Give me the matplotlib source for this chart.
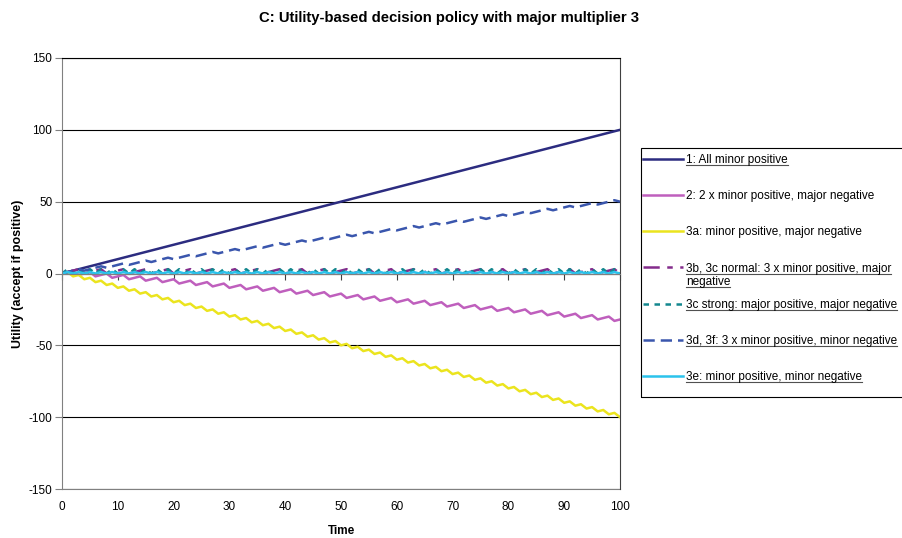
import matplotlib.pyplot as plt
from matplotlib.patches import Rectangle
from matplotlib.lines import Line2D

plt.rcParams['font.family'] = ['Liberation Sans', 'DejaVu Sans']
plt.rcParams['axes.unicode_minus'] = False

# -------------------------
# Data
# -------------------------
time = [0, 1, 2, 3, 4, 5, 6, 7, 8, 9,
        10, 11, 12, 13, 14, 15, 16, 17, 18, 19,
        20, 21, 22, 23, 24, 25, 26, 27, 28, 29,
        30, 31, 32, 33, 34, 35, 36, 37, 38, 39,
        40, 41, 42, 43, 44, 45, 46, 47, 48, 49,
        50, 51, 52, 53, 54, 55, 56, 57, 58, 59,
        60, 61, 62, 63, 64, 65, 66, 67, 68, 69,
        70, 71, 72, 73, 74, 75, 76, 77, 78, 79,
        80, 81, 82, 83, 84, 85, 86, 87, 88, 89,
        90, 91, 92, 93, 94, 95, 96, 97, 98, 99,
        100]

all_minor_pos = [0, 1, 2, 3, 4, 5, 6, 7, 8, 9,
                 10, 11, 12, 13, 14, 15, 16, 17, 18, 19,
                 20, 21, 22, 23, 24, 25, 26, 27, 28, 29,
                 30, 31, 32, 33, 34, 35, 36, 37, 38, 39,
                 40, 41, 42, 43, 44, 45, 46, 47, 48, 49,
                 50, 51, 52, 53, 54, 55, 56, 57, 58, 59,
                 60, 61, 62, 63, 64, 65, 66, 67, 68, 69,
                 70, 71, 72, 73, 74, 75, 76, 77, 78, 79,
                 80, 81, 82, 83, 84, 85, 86, 87, 88, 89,
                 90, 91, 92, 93, 94, 95, 96, 97, 98, 99,
                 100]

two_minor_major_neg = [0, 1, 2, -1, 0, 1, -2, -1, 0, -3,
                       -2, -1, -4, -3, -2, -5, -4, -3, -6, -5,
                       -4, -7, -6, -5, -8, -7, -6, -9, -8, -7,
                       -10, -9, -8, -11, -10, -9, -12, -11, -10, -13,
                       -12, -11, -14, -13, -12, -15, -14, -13, -16, -15,
                       -14, -17, -16, -15, -18, -17, -16, -19, -18, -17,
                       -20, -19, -18, -21, -20, -19, -22, -21, -20, -23,
                       -22, -21, -24, -23, -22, -25, -24, -23, -26, -25,
                       -24, -27, -26, -25, -28, -27, -26, -29, -28, -27,
                       -30, -29, -28, -31, -30, -29, -32, -31, -30, -33,
                       -32]

minor_pos_major_neg = [0, 1, -2, -1, -4, -3, -6, -5, -8, -7,
                       -10, -9, -12, -11, -14, -13, -16, -15, -18, -17,
                       -20, -19, -22, -21, -24, -23, -26, -25, -28, -27,
                       -30, -29, -32, -31, -34, -33, -36, -35, -38, -37,
                       -40, -39, -42, -41, -44, -43, -46, -45, -48, -47,
                       -50, -49, -52, -51, -54, -53, -56, -55, -58, -57,
                       -60, -59, -62, -61, -64, -63, -66, -65, -68, -67,
                       -70, -69, -72, -71, -74, -73, -76, -75, -78, -77,
                       -80, -79, -82, -81, -84, -83, -86, -85, -88, -87,
                       -90, -89, -92, -91, -94, -93, -96, -95, -98, -97,
                       -100]

three_minor_major_neg = [0, 1, 2, 3, 0, 1, 2, 3, 0, 1,
                         2, 3, 0, 1, 2, 3, 0, 1, 2, 3,
                         0, 1, 2, 3, 0, 1, 2, 3, 0, 1,
                         2, 3, 0, 1, 2, 3, 0, 1, 2, 3,
                         0, 1, 2, 3, 0, 1, 2, 3, 0, 1,
                         2, 3, 0, 1, 2, 3, 0, 1, 2, 3,
                         0, 1, 2, 3, 0, 1, 2, 3, 0, 1,
                         2, 3, 0, 1, 2, 3, 0, 1, 2, 3,
                         0, 1, 2, 3, 0, 1, 2, 3, 0, 1,
                         2, 3, 0, 1, 2, 3, 0, 1, 2, 3,
                         0]

major_pos_major_neg = [0, 3, 0, 3, 0, 3, 0, 3, 0, 3,
                       0, 3, 0, 3, 0, 3, 0, 3, 0, 3,
                       0, 3, 0, 3, 0, 3, 0, 3, 0, 3,
                       0, 3, 0, 3, 0, 3, 0, 3, 0, 3,
                       0, 3, 0, 3, 0, 3, 0, 3, 0, 3,
                       0, 3, 0, 3, 0, 3, 0, 3, 0, 3,
                       0, 3, 0, 3, 0, 3, 0, 3, 0, 3,
                       0, 3, 0, 3, 0, 3, 0, 3, 0, 3,
                       0, 3, 0, 3, 0, 3, 0, 3, 0, 3,
                       0, 3, 0, 3, 0, 3, 0, 3, 0, 3,
                       0]

three_minor_minor_neg = [0, 1, 2, 3, 2, 3, 4, 5, 4, 5,
                         6, 7, 6, 7, 8, 9, 8, 9, 10, 11,
                         10, 11, 12, 13, 12, 13, 14, 15, 14, 15,
                         16, 17, 16, 17, 18, 19, 18, 19, 20, 21,
                         20, 21, 22, 23, 22, 23, 24, 25, 24, 25,
                         26, 27, 26, 27, 28, 29, 28, 29, 30, 31,
                         30, 31, 32, 33, 32, 33, 34, 35, 34, 35,
                         36, 37, 36, 37, 38, 39, 38, 39, 40, 41,
                         40, 41, 42, 43, 42, 43, 44, 45, 44, 45,
                         46, 47, 46, 47, 48, 49, 48, 49, 50, 51,
                         50]

minor_pos_minor_neg = [0, 1, 0, 1, 0, 1, 0, 1, 0, 1,
                       0, 1, 0, 1, 0, 1, 0, 1, 0, 1,
                       0, 1, 0, 1, 0, 1, 0, 1, 0, 1,
                       0, 1, 0, 1, 0, 1, 0, 1, 0, 1,
                       0, 1, 0, 1, 0, 1, 0, 1, 0, 1,
                       0, 1, 0, 1, 0, 1, 0, 1, 0, 1,
                       0, 1, 0, 1, 0, 1, 0, 1, 0, 1,
                       0, 1, 0, 1, 0, 1, 0, 1, 0, 1,
                       0, 1, 0, 1, 0, 1, 0, 1, 0, 1,
                       0, 1, 0, 1, 0, 1, 0, 1, 0, 1,
                       0]

labels = ['1: All minor positive',
          '2: 2 x minor positive, major negative',
          '3a: minor positive, major negative',
          '3b, 3c normal: 3 x minor positive, major',
          '3c strong: major positive, major negative',
          '3d, 3f: 3 x minor positive, minor negative',
          '3e: minor positive, minor negative']
label_3b_wrap = 'negative'   # second line of the 3b entry
underlined = [True, False, False, True, True, True, True]

x_ticks = [0, 10, 20, 30, 40, 50, 60, 70, 80, 90, 100]
y_ticks = [-150, -100, -50, 0, 50, 100, 150]

# -------------------------
# Figure
# -------------------------
fig = plt.figure(figsize=(9.02, 5.38), dpi=100)
ax = fig.add_axes([62 / 902, 1 - 489 / 538, 558 / 902, 431 / 538])

series = [
    (all_minor_pos, '#2c2c80', '-'),
    (two_minor_major_neg, '#bf5fbd', '-'),
    (minor_pos_major_neg, '#ebe41e', '-'),
    (three_minor_major_neg, '#842c8c', (0, (6.5, 3, 2.2, 3))),
    (major_pos_major_neg, '#13878e', (0, (2.2, 2.2))),
    (three_minor_minor_neg, '#3a56ad', (0, (4.5, 2.4))),
    (minor_pos_minor_neg, '#2bc3ec', '-'),
]
for (vals, col, ls), lab in zip(series, labels):
    ax.plot(time, vals, color=col, linestyle=ls, linewidth=1.8, label=lab)

ax.set_xlim(0, 100)
ax.set_ylim(-150, 150)
ax.set_yticks(y_ticks)
ax.yaxis.grid(True, color='black', linewidth=0.8)
ax.set_axisbelow(True)

# x axis crosses at 0 (tick marks only), labels sit at the bottom
ax.spines['bottom'].set_position(('data', 0))
ax.spines['bottom'].set_color('#808080')
ax.set_xticks(x_ticks)
ax.tick_params(axis='x', direction='out', length=4, color='#404040',
               labelbottom=False)
ax.spines['left'].set_color('#808080')
ax.spines['right'].set_color('#404040')
ax.spines['top'].set_color('black')
ax.tick_params(axis='y', direction='out', length=5, color='#808080',
               pad=2, labelsize=8.5)

sec = ax.secondary_xaxis('bottom')
sec.set_xticks(x_ticks)
sec.tick_params(length=0, pad=9, labelsize=8.5)
sec.spines['bottom'].set_color('#808080')
sec.set_xlabel('Time', fontsize=8.5, fontweight='bold', labelpad=8)

ax.set_ylabel('Utility (accept if positive)', fontsize=9, fontweight='bold')
ax.yaxis.set_label_coords(-38.5 / 558, 0.5)

fig.text(449 / 902, 1 - 22 / 538,
         'C: Utility-based decision policy with major multiplier 3',
         ha='center', va='baseline', fontsize=10.7, fontweight='bold')

# -------------------------
# Legend: box drawn separately (Excel style padding)
# -------------------------
fig.patches.append(Rectangle((641 / 902, 1 - 397 / 538), 270 / 902, 249 / 538,
                             transform=fig.transFigure, fill=False,
                             edgecolor='black', linewidth=0.8))

leg = fig.legend(loc='upper left', bbox_to_anchor=(643 / 902, 1 - 154 / 538),
                 borderaxespad=0, borderpad=0, fontsize=8.5, frameon=False,
                 handlelength=3.4, handletextpad=0.25, labelspacing=2.05)

fig.canvas.draw()
renderer = fig.canvas.get_renderer()
inv = fig.transFigure.inverted()

# wrapped second line of the 3b entry
bb3b = leg.get_texts()[3].get_window_extent(renderer)
fx, fy = inv.transform((bb3b.x0, bb3b.y0 - 13))
wrap_txt = fig.text(fx, fy, label_3b_wrap, fontsize=8.5, ha='left', va='bottom')

# underline the legend labels like the original
under_texts = [t for t, ul in zip(leg.get_texts(), underlined) if ul] + [wrap_txt]
for txt in under_texts:
    bb = txt.get_window_extent(renderer)
    (x0, y), (x1, _) = inv.transform([(bb.x0, bb.y0 + 1), (bb.x1, bb.y0 + 1)])
    fig.lines.append(Line2D([x0, x1], [y, y], transform=fig.transFigure,
                            color='#505050', linewidth=0.8))

fig.savefig('out.png', dpi=100)
